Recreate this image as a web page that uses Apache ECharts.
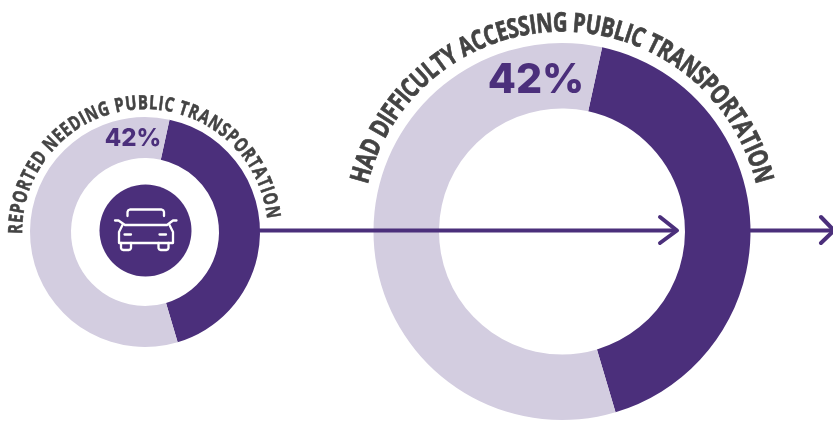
<!DOCTYPE html>
<html>
<head>
<meta charset="utf-8">
<style>html,body{margin:0;padding:0;background:#fff}#c{width:833px;height:422px}</style>
<script src="https://cdn.jsdelivr.net/npm/echarts@6/dist/echarts.min.js"></script>
</head>
<body>
<div id="c"></div>
<script>
// Share of respondents in each group, as two donuts joined by arrows
const groupTitles = ['REPORTED NEEDING PUBLIC TRANSPORTATION', 'HAD DIFFICULTY ACCESSING PUBLIC TRANSPORTATION'];
const yesValues = [42, 42];
const noValues = [58, 58];
const percentLabels = ['42%', '42%'];

const DARK = '#4b2f7b';
const LIGHT = '#d3cde0';
const INK = '#434343';

const chart = echarts.init(document.getElementById('c'), null, {renderer: 'canvas'});

const donuts = [
  {cx: 145, cy: 232, inner: 74, outer: 115, arcR: 118.5, from: -91, to: 84, font: 19.5, weight: 0.6, labelX: 133, labelY: 139, labelSize: 24},
  {cx: 562, cy: 231.5, inner: 123, outer: 188.5, arcR: 194, from: -76.5, to: 76.5, font: 26.5, weight: 0.8, labelX: 536, labelY: 81, labelSize: 41}
];

const measure = document.createElement('canvas').getContext('2d');
const SQUEEZE = 0.76;

// Lays a title out glyph by glyph along a circular arc above the donut
function arcText(text, d) {
  const fontCss = `bold ${d.font}px "Open Sans"`;
  measure.font = fontCss;
  const widths = [...text].map(ch => measure.measureText(ch).width * SQUEEZE);
  const total = widths.reduce((a, b) => a + b, 0);
  const arcLen = (d.to - d.from) * Math.PI / 180 * d.arcR;
  const gap = (arcLen - total) / (text.length - 1);
  let run = 0;
  return [...text].map((ch, i) => {
    const mid = run + widths[i] / 2;
    run += widths[i] + gap;
    const a = (d.from + mid / d.arcR * 180 / Math.PI) * Math.PI / 180;
    return {
      type: 'text',
      z: 10,
      x: d.cx + d.arcR * Math.sin(a),
      y: d.cy - d.arcR * Math.cos(a),
      rotation: -a,
      scaleX: SQUEEZE,
      style: {text: ch, font: fontCss, fill: INK, stroke: INK, lineWidth: d.weight, align: 'center', verticalAlign: 'bottom'}
    };
  });
}

function donutSeries(d, i) {
  return {
    type: 'pie',
    silent: true,
    clockwise: true,
    animation: false,
    center: [d.cx, d.cy],
    radius: [d.inner, d.outer],
    startAngle: 77.7,
    label: {show: false},
    labelLine: {show: false},
    data: [
      {value: yesValues[i], itemStyle: {color: DARK}},
      {value: noValues[i], itemStyle: {color: LIGHT}}
    ]
  };
}

const trace = (points, w, color) => ({
  type: 'polyline', z: 12, shape: {points},
  style: {stroke: color, lineWidth: w, fill: null, lineCap: 'round', lineJoin: 'round'}
});
const WHITE = '#fff';
const CAR_LINE = 2.3;

const graphics = [
  // Arrows between and after the donuts
  {type: 'line', z: 8, shape: {x1: 259, y1: 230.5, x2: 677, y2: 230.5}, style: {stroke: DARK, lineWidth: 4}},
  trace([[660, 217], [677, 230.5], [660, 243]], 4, DARK),
  {type: 'line', z: 8, shape: {x1: 749, y1: 230.5, x2: 833, y2: 230.5}, style: {stroke: DARK, lineWidth: 4}},
  trace([[821, 217], [834, 230.5], [821, 243]], 4, DARK),
  // Round badge with a car in the first donut
  {type: 'circle', z: 11, shape: {cx: 145.5, cy: 230.5, r: 46}, style: {fill: DARK}},
  trace([[127.5, 216], [127.5, 212], [128.3, 210.3], [130, 209.5], [161.5, 209.5], [163.2, 210.3], [164, 212], [164, 216]], CAR_LINE, WHITE),
  trace([[115, 220.5], [118.5, 220.5], [125, 225], [167, 225], [173, 220.5], [176.5, 220.5]], CAR_LINE, WHITE),
  trace([[122.5, 225], [119, 232], [119, 243], [173, 243], [173, 232], [169.5, 225]], CAR_LINE, WHITE),
  trace([[121, 243], [121, 248], [121.6, 249.4], [123, 250], [129, 250], [130.4, 249.4], [131, 248], [131, 243]], CAR_LINE, WHITE),
  trace([[158.5, 243], [158.5, 248], [159.1, 249.4], [160.5, 250], [166.5, 250], [167.9, 249.4], [168.5, 248], [168.5, 243]], CAR_LINE, WHITE),
  trace([[124.5, 234.5], [131, 234.5]], CAR_LINE, WHITE),
  trace([[159.5, 234.5], [166, 234.5]], CAR_LINE, WHITE)
];

donuts.forEach((d, i) => {
  graphics.push(...arcText(groupTitles[i], d));
  graphics.push({
    type: 'text', z: 10, x: d.labelX, y: d.labelY,
    style: {text: percentLabels[i], font: `800 ${d.labelSize}px Inter`, fill: DARK, align: 'center', verticalAlign: 'middle'}
  });
});

chart.setOption({
  animation: false,
  backgroundColor: '#fff',
  series: donuts.map(donutSeries),
  graphic: {elements: graphics}
});
</script>
</body>
</html>
